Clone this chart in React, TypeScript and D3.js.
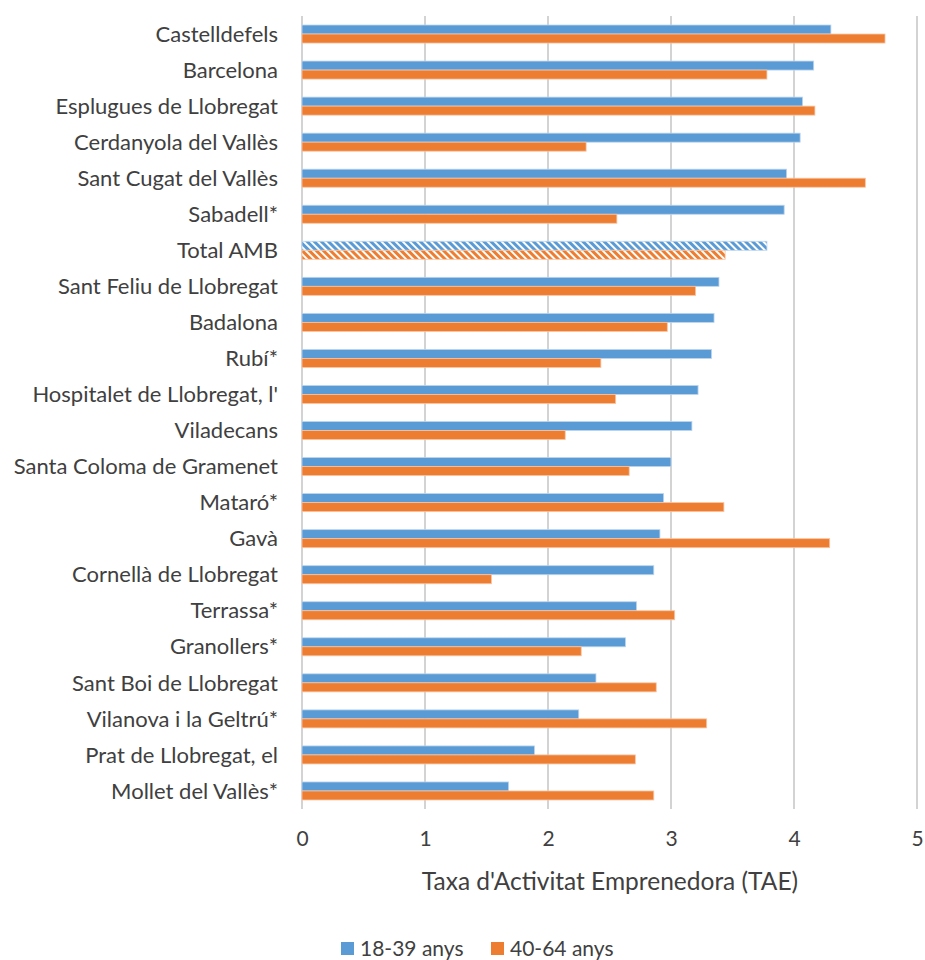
import React, { useEffect, useRef } from 'react';
import * as d3 from 'd3';

const width = 925;
const height = 960;
const margin = { top: 16, left: 302, bottom: 151, right: 7 };
const iwidth = width - margin.left - margin.right;
const iheight = height - margin.top - margin.bottom;

const municipis = [
  'Castelldefels', 'Barcelona', 'Esplugues de Llobregat', 'Cerdanyola del Vallès',
  'Sant Cugat del Vallès', 'Sabadell*', 'Total AMB', 'Sant Feliu de Llobregat',
  'Badalona', 'Rubí*', "Hospitalet de Llobregat, l'", 'Viladecans',
  'Santa Coloma de Gramenet', 'Mataró*', 'Gavà', 'Cornellà de Llobregat',
  'Terrassa*', 'Granollers*', 'Sant Boi de Llobregat', 'Vilanova i la Geltrú*',
  'Prat de Llobregat, el', 'Mollet del Vallès*'
];
const joves = [4.30, 4.16, 4.07, 4.05, 3.94, 3.92, 3.78, 3.39, 3.35, 3.33, 3.22, 3.17,
  3.00, 2.94, 2.91, 2.86, 2.72, 2.63, 2.39, 2.25, 1.89, 1.68];
const grans = [4.74, 3.78, 4.17, 2.31, 4.58, 2.56, 3.44, 3.20, 2.97, 2.43, 2.55, 2.14,
  2.66, 3.43, 4.29, 1.54, 3.03, 2.27, 2.88, 3.29, 2.71, 2.86];
const series = ['18-39 anys', '40-64 anys'];
const colors = ['#5B9BD5', '#ED7D31'];
const ticks = [0, 1, 2, 3, 4, 5];

const font = 'Lato, "Open Sans", sans-serif';
const textColor = '#404040';

const App = () => {
  const ref = useRef<SVGSVGElement>(null);

  useEffect(() => {
    const svg = d3.select(ref.current);
    svg.selectAll('*').remove();

    const defs = svg.append('defs');
    colors.forEach((c, i) => {
      const p = defs.append('pattern')
        .attr('id', 'hatch' + i)
        .attr('patternUnits', 'userSpaceOnUse')
        .attr('width', 5).attr('height', 5)
        .attr('patternTransform', 'rotate(-45)');
      p.append('rect').attr('width', 5).attr('height', 5).attr('fill', c);
      p.append('rect').attr('width', 2).attr('height', 5).attr('fill', '#fff');
    });

    const g = svg.append('g').attr('transform', `translate(${margin.left},${margin.top})`);

    const x = d3.scaleLinear().domain([0, 5]).range([0, iwidth - 1]);
    const y = d3.scaleBand().domain(municipis).range([0, iheight]).paddingInner(0.5).paddingOuter(0.25);
    const ys = d3.scaleBand().domain(series).range([0, y.bandwidth()]);

    g.selectAll('line.grid').data(ticks).enter().append('line')
      .attr('class', 'grid')
      .attr('x1', d => x(d)).attr('x2', d => x(d))
      .attr('y1', 0).attr('y2', iheight)
      .attr('stroke', '#d3d3d3')
      .attr('stroke-width', 2);

    const rows = municipis.map((m, i) => ({ m, vals: [joves[i], grans[i]] }));
    const row = g.selectAll('g.row').data(rows).enter().append('g')
      .attr('class', 'row')
      .attr('transform', d => `translate(0,${y(d.m)})`);

    row.selectAll('rect').data(d => d.vals.map((v, j) => ({ v, j, total: d.m === 'Total AMB' })))
      .enter().append('rect')
      .attr('x', 0)
      .attr('y', d => ys(series[d.j])!)
      .attr('width', d => x(d.v))
      .attr('height', ys.bandwidth())
      .attr('fill', d => d.total ? `url(#hatch${d.j})` : colors[d.j])
      .attr('stroke', d => d.j === 0 ? '#bcd5ee' : '#f7c4a4')
      .attr('stroke-width', 0.8);

    g.selectAll('text.cat').data(municipis).enter().append('text')
      .attr('class', 'cat')
      .attr('x', -24)
      .attr('y', d => y(d)! + y.bandwidth() / 2)
      .attr('dy', '0.35em')
      .attr('text-anchor', 'end')
      .style('font-family', font)
      .style('font-size', '22px')
      .attr('fill', textColor)
      .text(d => d);

    const xAxis = g.append('g')
      .attr('transform', `translate(0,${iheight})`)
      .call(d3.axisBottom(x).tickValues(ticks).tickFormat(d3.format('d')).tickSize(0).tickPadding(22));
    xAxis.select('.domain').remove();
    xAxis.selectAll('text')
      .style('font-family', font)
      .style('font-size', '21px')
      .attr('fill', textColor);

    g.append('text')
      .attr('x', iwidth / 2)
      .attr('y', 881 - margin.top)
      .attr('dy', '0.35em')
      .attr('text-anchor', 'middle')
      .style('font-family', font)
      .style('font-size', '24.5px')
      .attr('fill', textColor)
      .text("Taxa d'Activitat Emprenedora (TAE)");

    const legendX = [341, 491];
    const legend = svg.selectAll('g.legend').data(series).enter().append('g')
      .attr('class', 'legend')
      .attr('transform', (d, i) => `translate(${legendX[i]},942)`);
    legend.append('rect').attr('width', 13).attr('height', 13).attr('fill', (d, i) => colors[i]);
    legend.append('text')
      .attr('x', 19).attr('y', 7).attr('dy', '0.35em')
      .style('font-family', font)
      .style('font-size', '21px')
      .attr('fill', textColor)
      .text(d => d);
  }, []);

  return (
    <svg ref={ref} width={width} height={height}
      style={{ position: 'absolute', left: 0, top: 0, display: 'block' }} />
  );
};

export default App;
